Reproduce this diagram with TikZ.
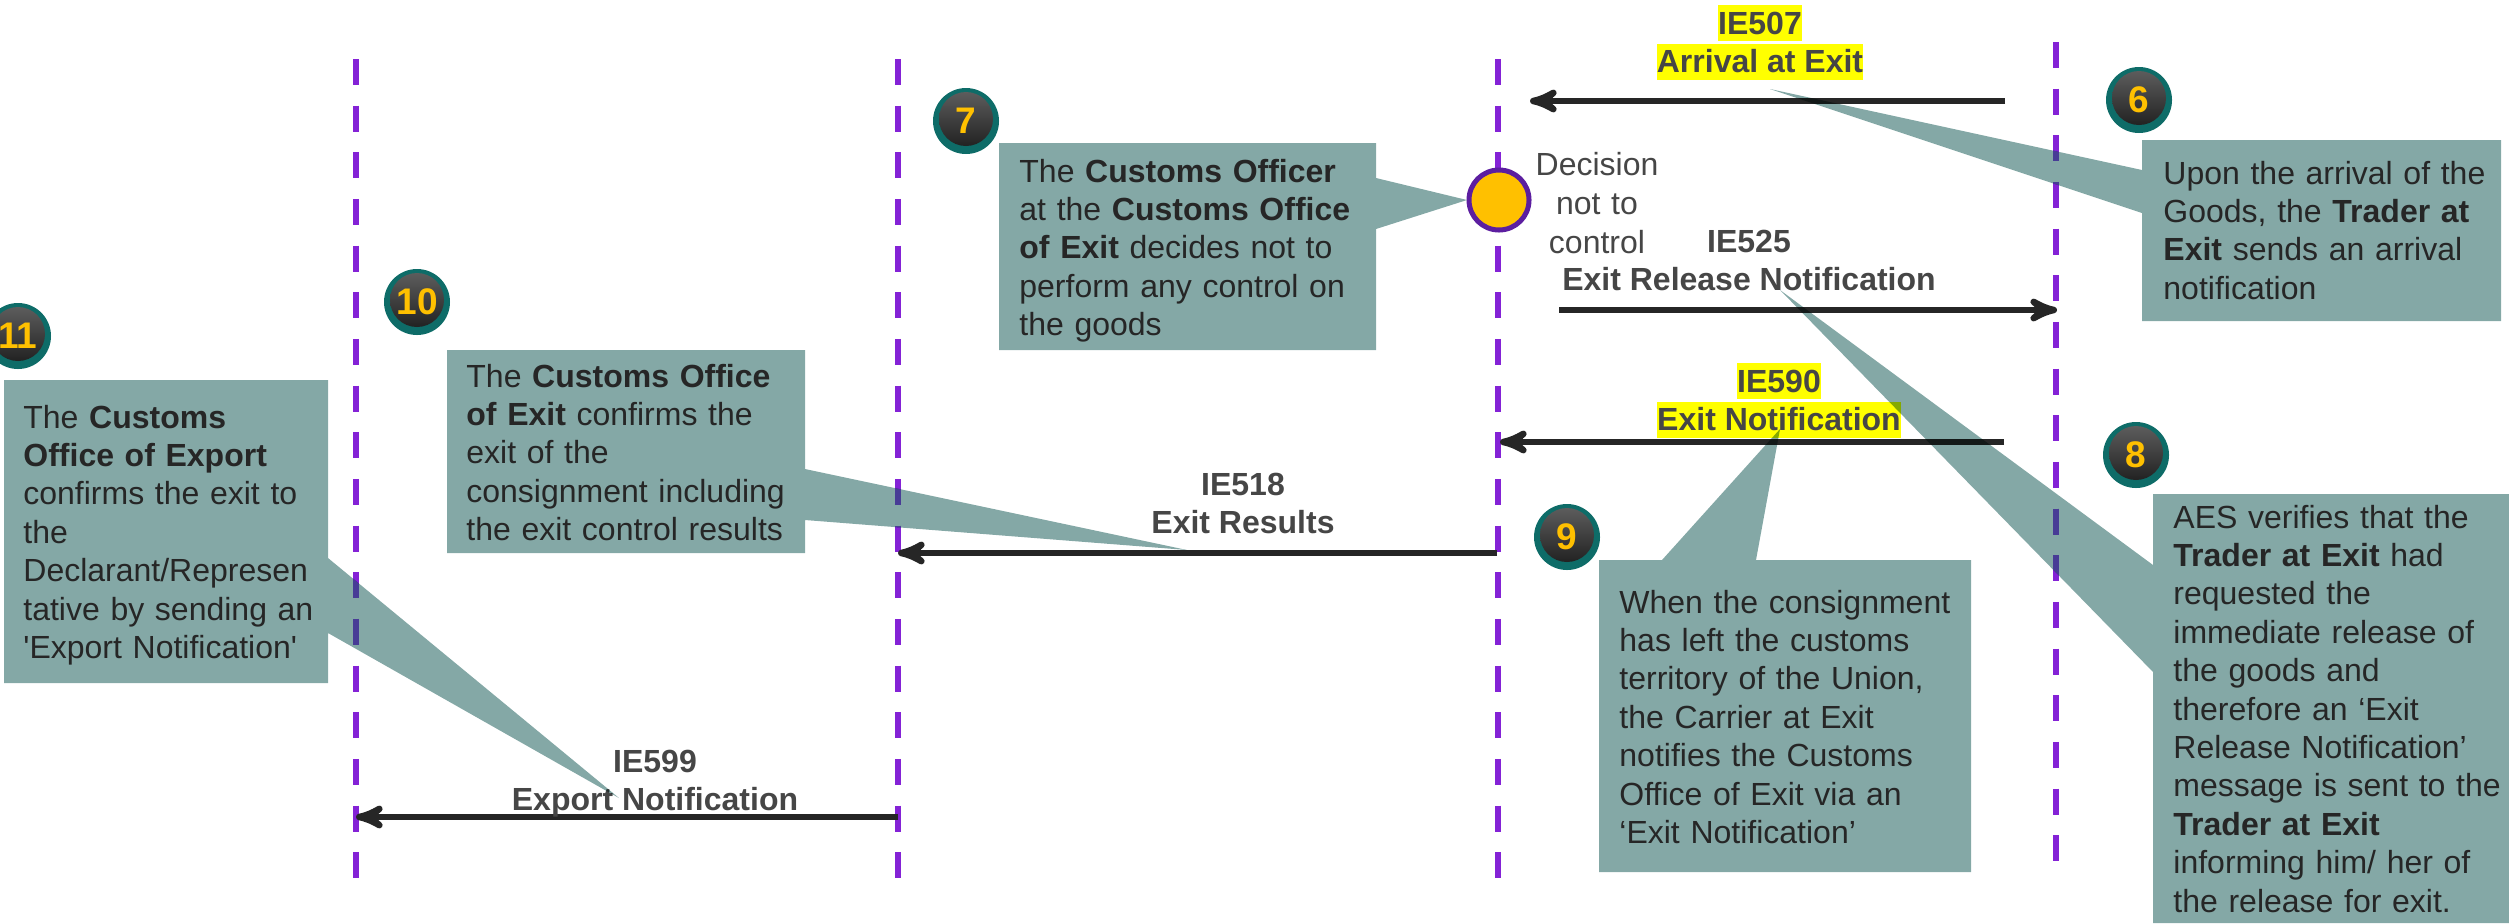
\documentclass[tikz,border=0pt]{standalone}
\usepackage{fontspec}
\setmainfont{Liberation Sans}
\newfontfamily\rawfont{Liberation Sans}
\usetikzlibrary{arrows,positioning}
\definecolor{lifeviolet}{RGB}{132,34,214}
\definecolor{lifedark}{RGB}{72,60,150}
\definecolor{notefill}{RGB}{132,168,166}
\definecolor{inktext}{RGB}{38,38,38}
\definecolor{msggray}{RGB}{70,70,70}
\definecolor{hiyellow}{RGB}{255,255,0}
\definecolor{ballrim}{RGB}{14,108,104}
\definecolor{ballnum}{RGB}{255,192,0}
\definecolor{decedge}{RGB}{92,30,160}

\begin{document}
\begin{tikzpicture}[>=stealth',x=0.5pt,y=-0.5pt,
  life line/.style={draw=lifeviolet,line width=2.75pt,dash pattern=on 13pt off 10.33pt},
  msg/.style={->,draw=inktext,line width=3.25pt},
  msg text/.style={font=\bfseries\fontsize{16}{19.2}\selectfont,text=msggray,inner xsep=0pt,inner ysep=0pt,text height=14.5pt,text depth=3.5pt},
  hi/.style={msg text,fill=hiyellow},
  note/.style={fill=notefill},
  note text/.style={font=\fontsize{16}{19.2}\selectfont,text=inktext,align=left,text width=200pt,inner sep=0pt,anchor=base west},
  main node/.style={circle,inner sep=0pt,minimum size=33pt,fill=ballrim,text=ballnum,font=\bfseries\fontsize{18.5}{20}\selectfont,
    path picture={\fill[top color=black!62,bottom color=black!90] ([yshift=1pt]path picture bounding box.center) circle (13.5pt);}}]

  \useasboundingbox (0,0) rectangle (2509,923);

  \draw[life line] (356,59) -- (356,879);
  \draw[life line] (898,59) -- (898,879);
  \draw[life line] (1498,59) -- (1498,879);
  \draw[life line] (2056,42) -- (2056,861);

  \coordinate (a1s) at (2005,101);
  \coordinate (a1e) at (1530,101);
  \coordinate (a2s) at (1559,310);
  \coordinate (a2e) at (2057,310);
  \coordinate (a3s) at (2004,442);
  \coordinate (a3e) at (1500,442);
  \coordinate (a4s) at (1497,553);
  \coordinate (a4e) at (898,553);
  \coordinate (a5s) at (898,817);
  \coordinate (a5e) at (356,817);
  \draw[msg] (a1s) -- (a1e);
  \draw[msg] (a2s) -- (a2e);
  \draw[msg] (a3s) -- (a3e);
  \draw[msg] (a4s) -- (a4e);
  \draw[msg] (a5s) -- (a5e);

  \node[hi,anchor=base] (m1) at (1760,34) {IE507};
  \node[hi,below=1pt of m1] (m1b) {Arrival at Exit};
  \node[msg text,anchor=base] (m2) at (1749,252) {IE525};
  \node[msg text,below=1pt of m2] (m2b) {Exit Release Notification};
  \node[hi,anchor=base] (m3) at (1779,392) {IE590};
  \node[hi,below=1pt of m3] (m3b) {Exit Notification};
  \node[msg text,anchor=base] (m4) at (1243,495) {IE518};
  \node[msg text,below=1pt of m4] (m4b) {Exit Results};
  \node[msg text,anchor=base] (m5) at (655,772) {IE599};
  \node[msg text,below=1pt of m5] (m5b) {Export Notification};

  \node[circle,draw=decedge,line width=2.5pt,fill=ballnum,minimum size=30pt,inner sep=0pt] (dec) at (1499,200) {};
  \node[font=\fontsize{16}{19.5}\selectfont,text=msggray,align=center,text width=70pt,inner sep=0pt,anchor=base] (dtext) at (1597,175) {Decision\\not to\\control};

  \begin{scope}[blend mode=multiply]
    \fill[note] (2142,140) -- (2501,140) -- (2501,321) -- (2142,321) -- (2142,213) -- (1770,89) -- (2142,170) -- cycle;
    \fill[note] (999,143) -- (1376,143) -- (1376,178) -- (1467,200) -- (1376,229) -- (1376,350) -- (999,350) -- cycle;
    \fill[note] (2153,494) -- (2509,494) -- (2509,923) -- (2153,923) -- (2153,672) -- (1780,290) -- (2153,565) -- cycle;
    \fill[note] (1599,560) -- (1662,560) -- (1780,429) -- (1756,560) -- (1971,560) -- (1971,872) -- (1599,872) -- cycle;
    \fill[note] (447,350) -- (805,350) -- (805,469) -- (1187,550) -- (805,520) -- (805,553) -- (447,553) -- cycle;
    \fill[note] (4,380) -- (328,380) -- (328,558) -- (619,798) -- (328,633) -- (328,683) -- (4,683) -- cycle;
  \end{scope}

  % lifelines seen through the pointers
  \begin{scope}
    \clip (2142,213) -- (1770,89) -- (2142,170) -- cycle;
    \draw[life line,draw=lifedark] (2056,42) -- (2056,861);
  \end{scope}
  \begin{scope}
    \clip (2153,672) -- (1780,290) -- (2153,565) -- cycle;
    \draw[life line,draw=lifedark] (2056,42) -- (2056,861);
  \end{scope}
  \begin{scope}
    \clip (805,469) -- (1187,550) -- (805,520) -- cycle;
    \draw[life line,draw=lifedark] (898,59) -- (898,879);
  \end{scope}
  \begin{scope}
    \clip (328,558) -- (619,798) -- (328,633) -- cycle;
    \draw[life line,draw=lifedark] (356,59) -- (356,879);
  \end{scope}

  \node[note text] (t6) at (2163,184) {Upon the arrival of the\\Goods, the \textbf{Trader at}\\\textbf{Exit} sends an arrival\\notification};
  \node[note text] (t7) at (1019,182) {The \textbf{Customs Officer}\\at the \textbf{Customs Office}\\\textbf{of Exit} decides not to\\perform any control on\\the goods};
  \node[note text] (t8) at (2173,528) {AES verifies that the\\\textbf{Trader at Exit} had\\requested the\\immediate release of\\the goods and\\therefore an ‘Exit\\Release Notification’\\message is sent to the\\\textbf{Trader at Exit}\\informing him/ her of\\the release for exit.};
  \node[note text] (t9) at (1619,613) {When the consignment\\has left the customs\\territory of the Union,\\the Carrier at Exit\\notifies the Customs\\Office of Exit via an\\‘Exit Notification’};
  \node[note text] (t10) at (466,387) {The \textbf{Customs Office}\\\textbf{of Exit} confirms the\\exit of the\\consignment including\\the exit control results};
  \node[note text] (t11) at (23,428) {The \textbf{Customs}\\\textbf{Office of Export}\\confirms the exit to\\the\\Declarant/Represen\\tative by sending an\\{\rawfont'}Export Notification{\rawfont'}};

  \node[main node] (s6) at (2139,100) {6};
  \node[main node] (s7) at (966,121) {7};
  \node[main node] (s8) at (2136,455) {8};
  \node[main node] (s9) at (1567,537) {9};
  \node[main node] (s10) at (417,302) {10};
  \node[main node] (s11) at (18,336) {11};
\end{tikzpicture}
\end{document}
